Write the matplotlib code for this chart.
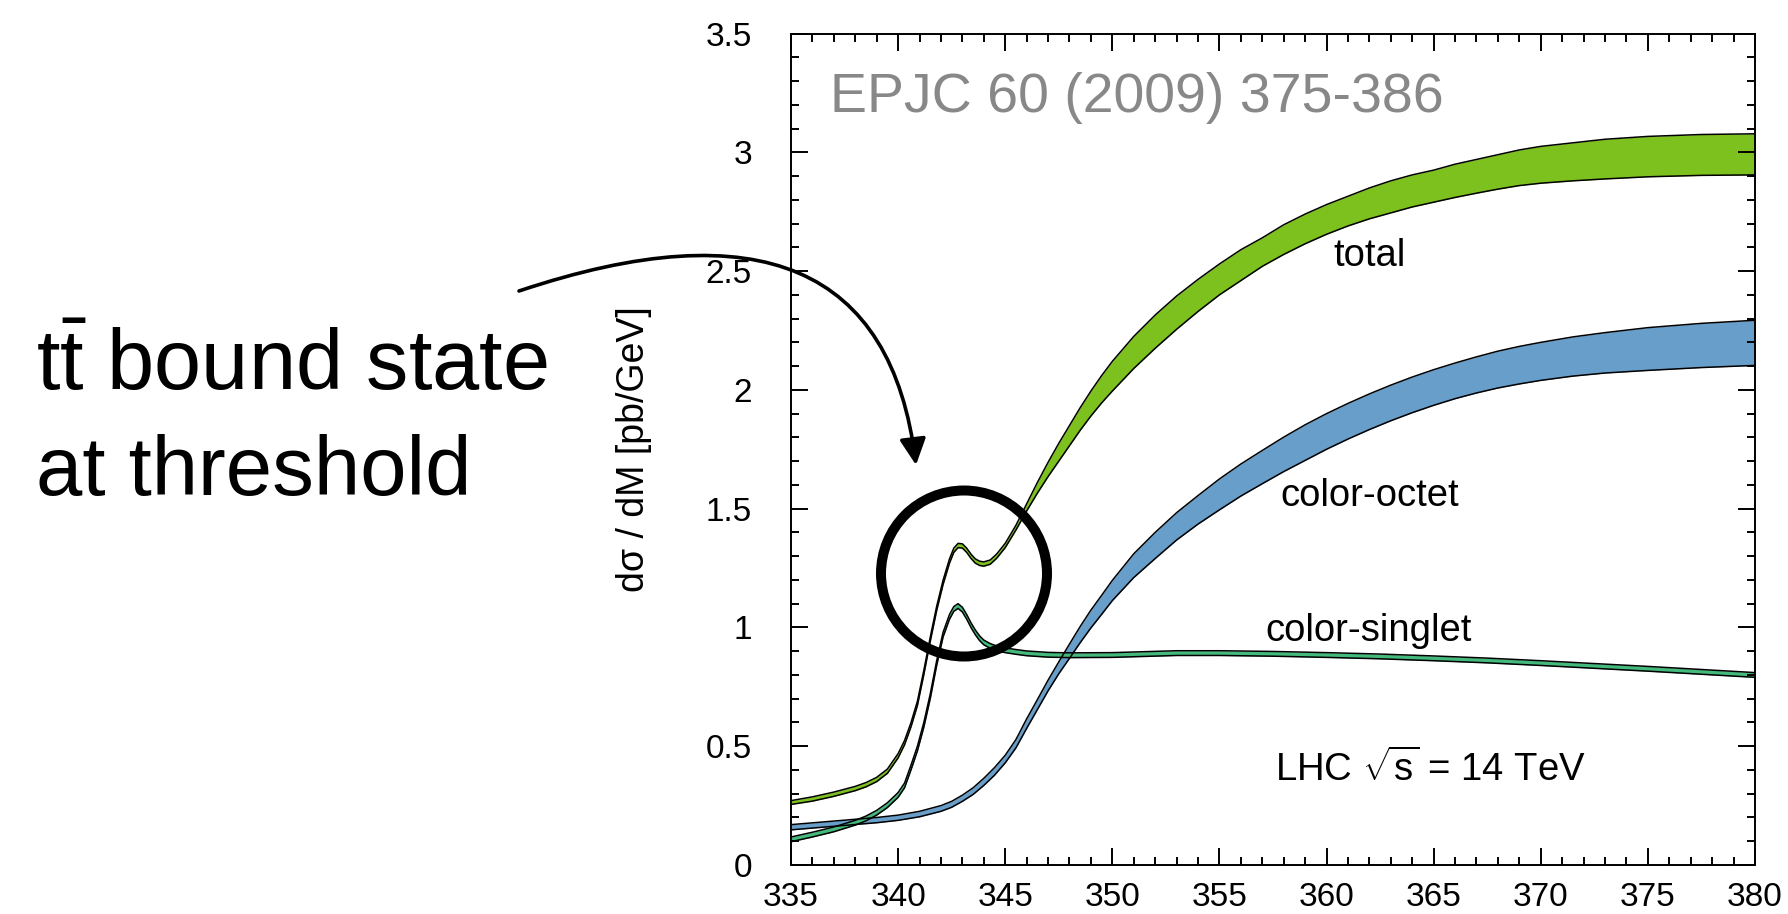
import matplotlib
matplotlib.use('Agg')
import matplotlib.pyplot as plt
from matplotlib.patches import Ellipse, FancyArrowPatch
from matplotlib.path import Path
from matplotlib.ticker import MultipleLocator, FuncFormatter

plt.rcParams['font.family'] = ['Liberation Sans', 'DejaVu Sans']
plt.rcParams['mathtext.fontset'] = 'custom'
plt.rcParams['mathtext.rm'] = 'Liberation Sans'

# --- data: dsigma/dM [pb/GeV] vs M [GeV], lower and upper band edges ---
mass_total = [335, 336, 337, 338, 338.5, 339, 339.5, 340, 340.3, 340.6, 340.9, 341.2, 341.5, 341.8,
              342.1, 342.4, 342.6, 342.8, 343.0, 343.2, 343.4, 343.6, 343.8, 344.0, 344.3, 344.6, 345,
              345.5, 346, 346.5, 347, 347.5, 348, 348.5, 349, 349.5, 350, 351, 352, 353, 354, 355, 356,
              357, 358, 359, 360, 361, 362, 363, 364, 365, 366, 367, 368, 369, 370, 371.5, 373, 375,
              377.5, 380]
total_lo = [0.255, 0.269, 0.289, 0.313, 0.329, 0.351, 0.386, 0.451, 0.506, 0.581, 0.671, 0.801, 0.941,
            1.071, 1.181, 1.271, 1.316, 1.336, 1.334, 1.316, 1.291, 1.271, 1.261, 1.258, 1.266, 1.291,
            1.336, 1.41, 1.49, 1.565, 1.635, 1.70, 1.765, 1.83, 1.89, 1.945, 1.995, 2.09, 2.175, 2.255,
            2.33, 2.40, 2.46, 2.52, 2.57, 2.615, 2.655, 2.69, 2.72, 2.745, 2.77, 2.79, 2.81, 2.828,
            2.845, 2.86, 2.87, 2.88, 2.888, 2.897, 2.903, 2.905]
total_hi = [0.271, 0.287, 0.307, 0.331, 0.347, 0.369, 0.404, 0.469, 0.524, 0.599, 0.689, 0.819, 0.959,
            1.089, 1.199, 1.289, 1.334, 1.354, 1.352, 1.334, 1.309, 1.289, 1.279, 1.276, 1.284, 1.309,
            1.354, 1.43, 1.52, 1.61, 1.695, 1.775, 1.85, 1.925, 1.995, 2.06, 2.12, 2.225, 2.315, 2.395,
            2.465, 2.53, 2.59, 2.64, 2.695, 2.74, 2.78, 2.815, 2.85, 2.88, 2.905, 2.925, 2.95, 2.97,
            2.99, 3.01, 3.025, 3.04, 3.055, 3.067, 3.075, 3.078]

mass_octet = [335, 337, 339, 340, 341, 342, 342.5, 343, 343.5, 344, 344.5, 345, 345.5, 346, 346.5, 347,
              347.5, 348, 348.5, 349, 349.5, 350, 351, 352, 353, 354, 355, 356, 357, 358, 359, 360, 361,
              362, 363, 364, 365, 366, 367, 368, 369, 370, 371.5, 373, 375, 377.5, 380]
octet_lo = [0.148, 0.163, 0.178, 0.188, 0.203, 0.226, 0.243, 0.268, 0.297, 0.335, 0.378, 0.430, 0.493,
            0.575, 0.654, 0.733, 0.805, 0.870, 0.936, 0.998, 1.055, 1.113, 1.210, 1.290, 1.368, 1.435,
            1.495, 1.553, 1.605, 1.656, 1.703, 1.750, 1.793, 1.833, 1.870, 1.904, 1.935, 1.963, 1.987,
            2.008, 2.025, 2.040, 2.058, 2.071, 2.082, 2.094, 2.103]
octet_hi = [0.170, 0.185, 0.200, 0.210, 0.226, 0.250, 0.268, 0.294, 0.325, 0.365, 0.410, 0.462, 0.528,
            0.615, 0.696, 0.778, 0.855, 0.930, 1.004, 1.073, 1.135, 1.198, 1.310, 1.400, 1.483, 1.555,
            1.625, 1.688, 1.745, 1.801, 1.853, 1.900, 1.943, 1.983, 2.020, 2.054, 2.085, 2.113, 2.139,
            2.163, 2.183, 2.200, 2.223, 2.241, 2.262, 2.280, 2.293]

mass_singlet = [335, 336, 337, 338, 338.5, 339, 339.5, 340, 340.3, 340.6, 340.9, 341.2, 341.5, 341.8,
                342.1, 342.4, 342.6, 342.8, 343.0, 343.2, 343.4, 343.6, 343.8, 344.0, 344.3, 344.6, 345,
                345.5, 346, 347, 348, 350, 353, 355, 357.5, 360, 362.5, 365, 367.5, 370, 372.5, 375,
                377.5, 380]
singlet_lo = [0.098, 0.118, 0.140, 0.168, 0.186, 0.210, 0.242, 0.285, 0.325, 0.400, 0.480, 0.580, 0.700,
              0.840, 0.960, 1.035, 1.068, 1.080, 1.065, 1.035, 1.000, 0.970, 0.945, 0.927, 0.912, 0.902,
              0.894, 0.887, 0.881, 0.875, 0.873, 0.874, 0.882, 0.882, 0.879, 0.874, 0.868, 0.860, 0.851,
              0.840, 0.828, 0.816, 0.803, 0.790]
singlet_hi = [0.118, 0.138, 0.160, 0.188, 0.206, 0.230, 0.262, 0.305, 0.345, 0.420, 0.500, 0.600, 0.720,
              0.860, 0.980, 1.055, 1.088, 1.100, 1.085, 1.055, 1.020, 0.990, 0.965, 0.947, 0.932, 0.922,
              0.914, 0.907, 0.901, 0.895, 0.893, 0.894, 0.902, 0.902, 0.899, 0.894, 0.888, 0.880, 0.871,
              0.860, 0.848, 0.836, 0.823, 0.810]

x_ticks_step = 5
y_ticks_step = 0.5

fig = plt.figure(figsize=(17.88, 9.14), dpi=100)
ax = fig.add_axes([0.4424, 0.0536, 0.5391, 0.9097])

bands = [
    (mass_total, total_lo, total_hi, '#7DC11E'),
    (mass_octet, octet_lo, octet_hi, '#689ECA'),
    (mass_singlet, singlet_lo, singlet_hi, '#44B97C'),
]
for m, lo, hi, col in bands:
    ax.fill_between(m, lo, hi, color=col, lw=0)
    ax.plot(m, lo, 'k-', lw=1.1)
    ax.plot(m, hi, 'k-', lw=1.1)

ax.set_xlim(335, 380)
ax.set_ylim(0, 3.5)
ax.xaxis.set_major_locator(MultipleLocator(x_ticks_step))
ax.xaxis.set_minor_locator(MultipleLocator(1))
ax.yaxis.set_major_locator(MultipleLocator(y_ticks_step))
ax.yaxis.set_minor_locator(MultipleLocator(0.1))
ax.yaxis.set_major_formatter(FuncFormatter(lambda v, p: '%g' % v))
ax.tick_params(which='both', direction='in', top=True, right=True, width=1.4, labelsize=24)
ax.tick_params(which='major', length=12)
ax.tick_params(which='minor', length=6)
ax.tick_params(axis='y', pad=28)
ax.tick_params(axis='x', pad=12)
for s in ax.spines.values():
    s.set_linewidth(1.4)

ax.set_ylabel('dσ / dM [pb/GeV]', fontsize=27, va='center')
ax.yaxis.set_label_coords(-0.163, 0.5)

ax.text(336.82, 3.171, 'EPJC 60 (2009) 375-386', fontsize=40, color='#888888')
ax.text(360.3, 2.52, 'total', fontsize=27.5)
ax.text(357.83, 1.51, 'color-octet', fontsize=27.5)
ax.text(357.13, 0.945, 'color-singlet', fontsize=27.5)
ax.text(357.6, 0.356, r'LHC $\sqrt{\mathrm{s}}$ = 14 TeV', fontsize=27.5)

# annotation on the left
W, H = 1788, 914
fig.text(36 / W, 1 - 390 / H, r't$\bar{\mathrm{t}}$ bound state', fontsize=61, va='baseline')
fig.text(36 / W, 1 - 495 / H, 'at threshold', fontsize=60, va='baseline')

fig.add_artist(Ellipse((964 / W, 1 - 573.5 / H), 166 / W, 166 / H, transform=fig.transFigure,
                       fill=False, lw=7.2, ec='k', zorder=10))

arrow_path = Path([(519 / W, 1 - 291 / H), (880 / W, 1 - 170 / H), (916 / W, 1 - 465 / H)],
                  [Path.MOVETO, Path.CURVE3, Path.CURVE3])
fig.add_artist(FancyArrowPatch(path=arrow_path, arrowstyle='-|>,head_length=0.8,head_width=0.4',
                               mutation_scale=20, lw=2.6, color='k', transform=fig.transFigure,
                               zorder=10))

fig.savefig('out.png', dpi=100)
